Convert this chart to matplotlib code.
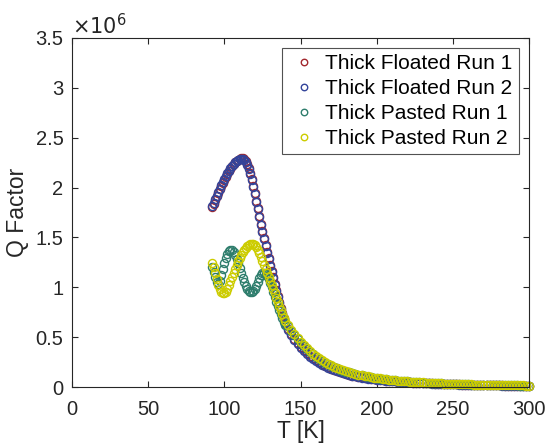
import numpy as np
import matplotlib
matplotlib.use("Agg")
import matplotlib.pyplot as plt
from matplotlib.ticker import FuncFormatter

plt.rcParams['font.family'] = ['Liberation Sans', 'DejaVu Sans']

# Temperature sweep grid [K]: 1 K steps 92-140, 2 K steps 142-300
T_fine = np.arange(92, 141, 1)
T_coarse = np.arange(142, 301, 2)
T = np.concatenate([T_fine, T_coarse])

# Q factor values, in units of 1e6
floated1_low = [1.80, 1.84, 1.88, 1.92, 1.95, 1.99, 2.02, 2.05, 2.08, 2.11,
                2.14, 2.17, 2.19, 2.22, 2.24, 2.26, 2.27, 2.28, 2.29, 2.30,
                2.30, 2.29, 2.27, 2.24, 2.20, 2.15, 2.09, 2.02, 1.95, 1.87,
                1.79, 1.71, 1.63, 1.56, 1.49, 1.42, 1.35, 1.29, 1.22, 1.16,
                1.10, 1.03, 0.97, 0.91, 0.85, 0.79, 0.74, 0.69, 0.64]
floated1_tail = [0.58, 0.53, 0.48, 0.44, 0.40, 0.37, 0.34, 0.31, 0.29, 0.27,
                 0.25, 0.23, 0.21, 0.20, 0.185, 0.17, 0.16, 0.15, 0.14, 0.13,
                 0.123, 0.116, 0.109, 0.103, 0.097, 0.092, 0.087, 0.083, 0.079, 0.075,
                 0.072, 0.069, 0.066, 0.063, 0.060, 0.058, 0.056, 0.054, 0.052, 0.050,
                 0.048, 0.046, 0.044, 0.043, 0.041, 0.040, 0.038, 0.037, 0.036, 0.035,
                 0.033, 0.032, 0.031, 0.030, 0.029, 0.028, 0.027, 0.026, 0.025, 0.025,
                 0.024, 0.023, 0.022, 0.022, 0.021, 0.020, 0.019, 0.019, 0.018, 0.018,
                 0.017, 0.016, 0.016, 0.015, 0.015, 0.014, 0.014, 0.013, 0.013, 0.012]

floated2_low = [1.81, 1.85, 1.89, 1.92, 1.96, 1.99, 2.03, 2.06, 2.09, 2.12,
                2.15, 2.17, 2.20, 2.22, 2.24, 2.26, 2.27, 2.28, 2.29, 2.29,
                2.29, 2.28, 2.26, 2.23, 2.19, 2.14, 2.08, 2.01, 1.94, 1.86,
                1.78, 1.70, 1.62, 1.55, 1.48, 1.41, 1.34, 1.28, 1.21, 1.15,
                1.09, 1.02, 0.96, 0.90, 0.84, 0.78, 0.73, 0.68, 0.63]
floated2_tail = [0.57, 0.52, 0.47, 0.43, 0.39, 0.36, 0.33, 0.305, 0.285, 0.265,
                 0.245, 0.225, 0.21, 0.195, 0.18, 0.168, 0.157, 0.147, 0.138, 0.128,
                 0.121, 0.114, 0.107, 0.101, 0.095, 0.090, 0.085, 0.081, 0.077, 0.073,
                 0.070, 0.067, 0.064, 0.061, 0.059, 0.057, 0.055, 0.053, 0.051, 0.049,
                 0.047, 0.045, 0.043, 0.042, 0.040, 0.039, 0.037, 0.036, 0.035, 0.034,
                 0.032, 0.031, 0.030, 0.029, 0.028, 0.027, 0.026, 0.025, 0.024, 0.024,
                 0.023, 0.022, 0.021, 0.021, 0.020, 0.019, 0.018, 0.018, 0.017, 0.017,
                 0.016, 0.015, 0.015, 0.014, 0.014, 0.013, 0.013, 0.012, 0.012, 0.011]

pasted1_low = [1.20, 1.15, 1.10, 1.05, 1.03, 1.06, 1.12, 1.18, 1.24, 1.29,
               1.33, 1.36, 1.37, 1.37, 1.35, 1.32, 1.28, 1.24, 1.19, 1.14,
               1.09, 1.05, 1.01, 0.98, 0.96, 0.95, 0.95, 0.96, 0.98, 1.01,
               1.05, 1.09, 1.12, 1.14, 1.14, 1.13, 1.11, 1.08, 1.04, 1.00,
               0.95, 0.90, 0.85, 0.81, 0.77, 0.73, 0.69, 0.65, 0.62]
pasted1_tail = [0.61, 0.56, 0.52, 0.48, 0.44, 0.41, 0.38, 0.355, 0.33, 0.305,
                0.285, 0.265, 0.245, 0.23, 0.215, 0.20, 0.187, 0.176, 0.166, 0.156,
                0.147, 0.138, 0.131, 0.124, 0.117, 0.111, 0.105, 0.099, 0.094, 0.089,
                0.085, 0.081, 0.077, 0.074, 0.071, 0.068, 0.065, 0.062, 0.059, 0.057,
                0.054, 0.052, 0.050, 0.048, 0.046, 0.044, 0.043, 0.041, 0.040, 0.038,
                0.037, 0.035, 0.034, 0.033, 0.032, 0.031, 0.030, 0.029, 0.028, 0.027,
                0.026, 0.025, 0.024, 0.024, 0.023, 0.022, 0.022, 0.021, 0.020, 0.020,
                0.019, 0.019, 0.018, 0.018, 0.017, 0.017, 0.016, 0.016, 0.015, 0.015]

pasted2_low = [1.24, 1.20, 1.14, 1.08, 1.02, 0.98, 0.95, 0.94, 0.94, 0.95,
               0.98, 1.02, 1.06, 1.10, 1.14, 1.18, 1.22, 1.26, 1.29, 1.32,
               1.35, 1.37, 1.39, 1.41, 1.42, 1.43, 1.43, 1.43, 1.42, 1.40,
               1.37, 1.34, 1.30, 1.26, 1.22, 1.18, 1.14, 1.10, 1.06, 1.02,
               0.98, 0.94, 0.89, 0.85, 0.81, 0.77, 0.73, 0.69, 0.66]
pasted2_tail = [0.62, 0.57, 0.53, 0.49, 0.45, 0.42, 0.39, 0.36, 0.33, 0.31,
                0.29, 0.27, 0.25, 0.235, 0.22, 0.205, 0.19, 0.18, 0.17, 0.16,
                0.15, 0.14, 0.133, 0.126, 0.119, 0.113, 0.107, 0.101, 0.096, 0.091,
                0.087, 0.083, 0.079, 0.075, 0.072, 0.069, 0.066, 0.063, 0.060, 0.058,
                0.055, 0.053, 0.051, 0.049, 0.047, 0.045, 0.044, 0.042, 0.041, 0.039,
                0.038, 0.036, 0.035, 0.034, 0.033, 0.032, 0.031, 0.030, 0.029, 0.028,
                0.027, 0.026, 0.025, 0.025, 0.024, 0.023, 0.023, 0.022, 0.021, 0.021,
                0.020, 0.020, 0.019, 0.019, 0.018, 0.018, 0.017, 0.017, 0.016, 0.016]

labels = ["Thick Floated Run 1", "Thick Floated Run 2",
          "Thick Pasted Run 1", "Thick Pasted Run 2"]
colors = ["#A2282E", "#33449A", "#2E7D6C", "#CCCC00"]
series = [floated1_low + floated1_tail, floated2_low + floated2_tail,
          pasted1_low + pasted1_tail, pasted2_low + pasted2_tail]

x_ticks = [0, 50, 100, 150, 200, 250, 300]
y_ticks_millions = [0, 0.5, 1, 1.5, 2, 2.5, 3, 3.5]

fig = plt.figure(figsize=(5.45, 4.45), dpi=100)
ax = fig.add_axes([0.132, 0.130, 0.839, 0.785])

for q, lab, c in zip(series, labels, colors):
    ax.plot(T, np.array(q) * 1e6, linestyle='none', marker='o', markersize=5.8,
            markerfacecolor='none', markeredgecolor=c, markeredgewidth=1.0,
            label=lab, clip_on=False)

ax.set_xlim(0, 300)
ax.set_ylim(0, 3.5e6)
ax.set_xticks(x_ticks)
ax.set_yticks([v * 1e6 for v in y_ticks_millions])
ax.yaxis.set_major_formatter(FuncFormatter(lambda v, p: f"{v/1e6:g}"))
ax.xaxis.set_major_formatter(FuncFormatter(lambda v, p: f"{v:g}"))

axcol = "#262626"
for s in ax.spines.values():
    s.set_color(axcol)
    s.set_linewidth(0.8)
ax.tick_params(direction='in', top=True, right=True, length=4, width=0.8,
               colors=axcol, labelsize=14.5, labelcolor=axcol)
ax.tick_params(axis='x', pad=9)
ax.tick_params(axis='y', pad=6)

ax.set_xlabel("T [K]", fontsize=16.5, color=axcol, labelpad=1)
ax.set_ylabel("Q Factor", fontsize=16.5, color=axcol, labelpad=5)
ax.text(0.0, 1.0, r"$\times10^{6}$", transform=ax.transAxes, fontsize=15,
        color=axcol, ha='left', va='bottom')

leg = ax.legend(loc='upper right', fontsize=15, frameon=True, fancybox=False,
                edgecolor=axcol, borderpad=0.3, labelspacing=0.28,
                handletextpad=0.2, handlelength=1.6, borderaxespad=0.5,
                markerscale=0.8)
leg.get_frame().set_linewidth(0.8)

fig.savefig("out.png", dpi=100)
